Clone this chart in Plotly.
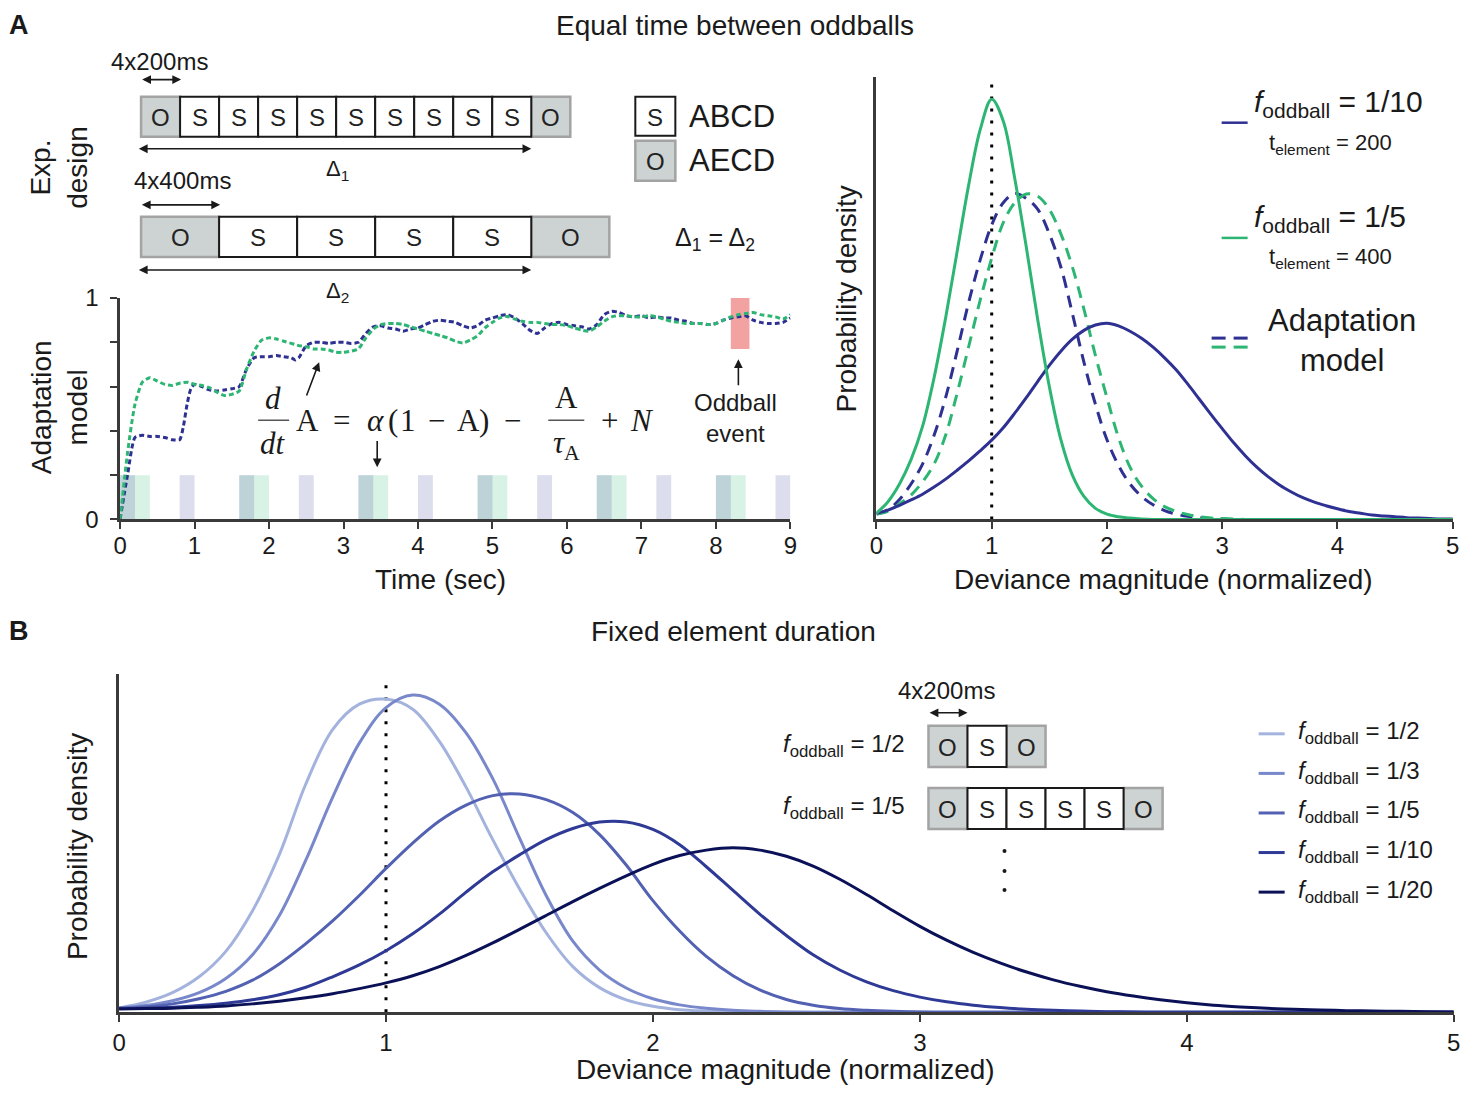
import plotly.graph_objects as go

# page geometry: the photographed page maps viewport v -> picture p as p = s*v + o
W, H = 1475, 1093
SX, OX = 0.99, 6.0
SY, OY = 0.9735, 14.5
def vx(p): return (p - OX) / SX
def vy(p): return (p - OY) / SY
def X(p): return vx(p) / W
def Y(p): return 1 - vy(p) / H

# ---------------- DATA ----------------
# Panel A left: adaptation model traces (time in s, adaptation level)
t_model = [0.0,0.1,0.2,0.3,0.4,0.5,0.6,0.7,0.8,0.85,0.9,0.95,1.0,1.1,1.2,1.3,1.4,1.5,1.6,1.7,1.8,1.9,2.0,
           2.1,2.2,2.3,2.35,2.4,2.5,2.6,2.7,2.8,2.9,3.0,3.1,3.2,3.3,3.4,3.5,3.6,3.7,3.8,3.9,4.0,4.1,4.2,4.3,
           4.4,4.5,4.6,4.7,4.8,4.9,5.0,5.1,5.2,5.3,5.4,5.5,5.6,5.7,5.8,5.9,6.0,6.1,6.2,6.3,6.4,6.5,6.6,6.7,
           6.8,6.9,7.0,7.1,7.2,7.3,7.4,7.5,7.6,7.7,7.8,7.9,8.0,8.1,8.2,8.3,8.4,8.5,8.6,8.7,8.8,8.9,9.0]
adapt_1_10 = [0.0,0.20,0.37,0.38,0.375,0.375,0.37,0.36,0.36,0.42,0.52,0.59,0.61,0.60,0.585,0.58,0.585,0.59,0.60,
              0.68,0.73,0.735,0.735,0.74,0.735,0.73,0.72,0.73,0.785,0.80,0.80,0.795,0.80,0.80,0.795,0.80,0.84,
              0.87,0.875,0.865,0.86,0.85,0.86,0.865,0.88,0.895,0.90,0.895,0.89,0.875,0.865,0.875,0.90,0.91,
              0.92,0.925,0.91,0.885,0.855,0.84,0.865,0.885,0.89,0.88,0.875,0.87,0.86,0.88,0.925,0.94,0.935,
              0.92,0.915,0.92,0.91,0.915,0.91,0.91,0.90,0.895,0.885,0.885,0.88,0.885,0.90,0.91,0.915,0.92,
              0.90,0.89,0.885,0.885,0.89,0.91]
adapt_1_5 = [0.0,0.30,0.52,0.62,0.64,0.625,0.61,0.605,0.615,0.618,0.62,0.615,0.61,0.605,0.595,0.575,0.56,0.565,
             0.58,0.68,0.76,0.81,0.82,0.815,0.805,0.795,0.79,0.785,0.78,0.77,0.77,0.765,0.755,0.755,0.76,0.77,
             0.82,0.86,0.88,0.885,0.885,0.88,0.87,0.86,0.85,0.84,0.83,0.82,0.805,0.797,0.81,0.83,0.865,0.89,
             0.91,0.917,0.905,0.895,0.89,0.89,0.885,0.88,0.88,0.875,0.865,0.855,0.85,0.87,0.895,0.915,0.92,
             0.92,0.915,0.915,0.92,0.915,0.905,0.895,0.89,0.885,0.885,0.885,0.88,0.885,0.90,0.915,0.925,0.93,
             0.935,0.925,0.92,0.915,0.905,0.925]
# stimulus bars (start time, duration)
bars_1_10_start = [0.0,0.8,1.6,2.4,3.2,4.0,4.8,5.6,6.4,7.2,8.0,8.8]
bars_1_10_dur = 0.2
bars_1_5_start = [0.0,1.6,3.2,4.8,6.4,8.0]
bars_1_5_dur = 0.4
bar_height = 0.2
oddball_start, oddball_dur, oddball_lo, oddball_hi = 8.2, 0.25, 0.77, 1.0

# Deviance-magnitude sample positions (0 ... 5 in steps of 0.1)
dev_x = [0.0,0.1,0.2,0.3,0.4,0.5,0.6,0.7,0.8,0.9,1.0,1.1,1.2,1.3,1.4,1.5,1.6,1.7,1.8,1.9,2.0,2.1,2.2,2.3,2.4,
         2.5,2.6,2.7,2.8,2.9,3.0,3.1,3.2,3.3,3.4,3.5,3.6,3.7,3.8,3.9,4.0,4.1,4.2,4.3,4.4,4.5,4.6,4.7,4.8,4.9,5.0]

# Panel A right: probability densities
pd_green_solid = [0.014,0.04,0.08,0.135,0.21,0.32,0.455,0.605,0.755,0.88,0.949,0.90,0.77,0.615,0.45,0.30,
                  0.18,0.10,0.052,0.025,0.012,0.006,0.003,0.001,
                  0,0,0,0,0,0,0,0,0,0,0,0,0,0,0,0,0,0,0,0,0,0,0,0,0,0,0]
pd_blue_solid = [0.014,0.021,0.032,0.044,0.057,0.073,0.091,0.111,0.132,0.155,0.179,0.207,0.24,0.275,0.312,0.348,
                 0.38,0.407,0.427,0.439,0.443,0.437,0.425,0.409,0.389,0.365,0.338,0.306,0.272,0.238,0.205,
                 0.173,0.144,0.118,0.096,0.077,0.062,0.049,0.039,0.031,0.024,0.018,0.014,0.010,0.008,0.006,
                 0.004,0.003,0.002,0.001,0.001]
pd_blue_dash = [0.012,0.022,0.045,0.08,0.125,0.19,0.275,0.38,0.49,0.586,0.665,0.715,0.736,0.725,0.70,0.645,
                0.57,0.465,0.355,0.26,0.18,0.122,0.08,0.052,0.033,0.02,0.012,0.007,0.004,0.002,0.001,
                0,0,0,0,0,0,0,0,0,0,0,0,0,0,0,0,0,0,0,0]
pd_green_dash = [0.012,0.018,0.035,0.055,0.085,0.125,0.19,0.285,0.39,0.495,0.59,0.67,0.715,0.735,0.73,0.70,
                 0.645,0.57,0.475,0.37,0.275,0.185,0.118,0.075,0.047,0.029,0.018,0.011,0.006,0.003,0.002,0.001,
                 0,0,0,0,0,0,0,0,0,0,0,0,0,0,0,0,0,0,0]
ref_x = [1, 1]
ref_y = [0, 0.99]

# Panel B: fixed element duration
pd_b = {
    "1/2":  [0.013,0.03,0.058,0.105,0.18,0.30,0.465,0.675,0.835,0.91,0.925,0.895,0.80,0.665,0.51,0.365,0.235,
             0.135,0.073,0.037,0.018,0.008,0.004,0.002,0.001,
             0,0,0,0,0,0,0,0,0,0,0,0,0,0,0,0,0,0,0,0,0,0,0,0,0,0],
    "1/3":  [0.013,0.02,0.034,0.058,0.10,0.17,0.285,0.45,0.635,0.795,0.90,0.937,0.91,0.825,0.69,0.515,0.345,
             0.21,0.125,0.072,0.04,0.022,0.012,0.006,0.003,0.001,
             0,0,0,0,0,0,0,0,0,0,0,0,0,0,0,0,0,0,0,0,0,0,0,0,0],
    "1/5":  [0.012,0.016,0.025,0.04,0.062,0.095,0.143,0.203,0.27,0.345,0.425,0.50,0.565,0.612,0.64,0.645,
             0.628,0.59,0.525,0.435,0.33,0.24,0.165,0.108,0.066,0.038,0.021,0.011,0.006,0.003,0.001,
             0,0,0,0,0,0,0,0,0,0,0,0,0,0,0,0,0,0,0,0],
    "1/10": [0.011,0.012,0.015,0.02,0.027,0.037,0.052,0.074,0.105,0.14,0.182,0.232,0.29,0.355,0.415,0.465,
             0.51,0.543,0.562,0.562,0.54,0.495,0.43,0.36,0.29,0.227,0.17,0.125,0.09,0.064,0.045,0.031,
             0.021,0.014,0.009,0.006,0.004,0.002,0.001,
             0,0,0,0,0,0,0,0,0,0,0,0],
    "1/20": [0.01,0.011,0.012,0.015,0.019,0.025,0.033,0.043,0.055,0.07,0.087,0.108,0.135,0.168,0.205,0.245,
             0.286,0.327,0.366,0.403,0.437,0.463,0.479,0.486,0.479,0.461,0.432,0.393,0.348,0.30,0.254,0.213,
             0.177,0.146,0.119,0.096,0.077,0.061,0.048,0.037,0.028,0.021,0.016,0.012,0.009,0.007,0.005,
             0.004,0.003,0.002,0.001],
}
b_colors = {"1/2": "#a3b3de", "1/3": "#7888ca", "1/5": "#5261b2", "1/10": "#2e3a95", "1/20": "#0b1157"}

# Tick labels
time_ticks = [0, 1, 2, 3, 4, 5, 6, 7, 8, 9]
dev_ticks = [0, 1, 2, 3, 4, 5]
adapt_tickvals = [0, 0.2, 0.4, 0.6, 0.8, 1.0]
adapt_ticktext = ["0", "", "", "", "", "1"]

BLUE = "#2e3192"
GREEN = "#2db673"
FONT = "Liberation Sans, Arial, sans-serif"
SERIF = "Liberation Serif, DejaVu Serif, serif"
INK = "#1a1a1a"
AX = "#3a3a3a"

fig = go.Figure()

# ---- Panel A left ----
fig.add_trace(go.Bar(x=[s + bars_1_5_dur / 2 for s in bars_1_5_start], y=[bar_height] * len(bars_1_5_start),
                     width=bars_1_5_dur, marker=dict(color=GREEN, line=dict(width=0)), opacity=0.18,
                     xaxis="x", yaxis="y", hoverinfo="skip"))
fig.add_trace(go.Bar(x=[s + bars_1_10_dur / 2 for s in bars_1_10_start], y=[bar_height] * len(bars_1_10_start),
                     width=bars_1_10_dur, marker=dict(color=BLUE, line=dict(width=0)), opacity=0.16,
                     xaxis="x", yaxis="y", hoverinfo="skip"))
fig.add_trace(go.Bar(x=[oddball_start + oddball_dur / 2], y=[oddball_hi - oddball_lo], base=[oddball_lo],
                     width=oddball_dur, marker=dict(color="#f3a2a2", line=dict(width=0)),
                     xaxis="x", yaxis="y", hoverinfo="skip"))
fig.add_trace(go.Scatter(x=t_model, y=adapt_1_10, mode="lines", xaxis="x", yaxis="y",
                         line=dict(color=BLUE, width=3, dash="5px,3px", shape="spline", smoothing=0.6)))
fig.add_trace(go.Scatter(x=t_model, y=adapt_1_5, mode="lines", xaxis="x", yaxis="y",
                         line=dict(color=GREEN, width=3, dash="5px,3px", shape="spline", smoothing=0.6)))

# ---- Panel A right ----
fig.add_trace(go.Scatter(x=ref_x, y=ref_y, mode="lines", xaxis="x2", yaxis="y2",
                         line=dict(color="black", width=3, dash="3px,9px")))
fig.add_trace(go.Scatter(x=dev_x, y=pd_blue_dash, mode="lines", xaxis="x2", yaxis="y2",
                         line=dict(color=BLUE, width=3, dash="12px,8px", shape="spline")))
fig.add_trace(go.Scatter(x=dev_x, y=pd_green_dash, mode="lines", xaxis="x2", yaxis="y2",
                         line=dict(color=GREEN, width=3, dash="12px,8px", shape="spline")))
fig.add_trace(go.Scatter(x=dev_x, y=pd_blue_solid, mode="lines", xaxis="x2", yaxis="y2",
                         line=dict(color=BLUE, width=3, shape="spline")))
fig.add_trace(go.Scatter(x=dev_x, y=pd_green_solid, mode="lines", xaxis="x2", yaxis="y2",
                         line=dict(color=GREEN, width=3, shape="spline")))

# ---- Panel B ----
fig.add_trace(go.Scatter(x=ref_x, y=ref_y, mode="lines", xaxis="x3", yaxis="y3",
                         line=dict(color="black", width=3, dash="3px,9px")))
for k in ["1/2", "1/3", "1/5", "1/10", "1/20"]:
    fig.add_trace(go.Scatter(x=dev_x, y=pd_b[k], mode="lines", xaxis="x3", yaxis="y3",
                             line=dict(color=b_colors[k], width=3, shape="spline")))

axis_common = dict(showline=True, linewidth=2.5, linecolor=AX, showgrid=False, zeroline=False,
                   ticks="outside", ticklen=7, tickwidth=2, tickcolor=AX,
                   tickfont=dict(family=FONT, size=24, color=INK), fixedrange=True)
noy = dict(showline=True, linewidth=2.5, linecolor=AX, showgrid=False, zeroline=False, ticks="",
           showticklabels=False, range=[0, 1], fixedrange=True)

fig.update_layout(
    width=W, height=H, autosize=False, margin=dict(l=0, r=0, t=0, b=0),
    paper_bgcolor="white", plot_bgcolor="white", showlegend=False, barmode="overlay",
    font=dict(family=FONT, color=INK),
    xaxis=dict(domain=[X(119), X(789)], range=[0, 9], tickvals=time_ticks, anchor="y",
               ticklabelstandoff=-4, **axis_common),
    yaxis=dict(domain=[Y(519), Y(298)], range=[0, 1], tickvals=adapt_tickvals, ticktext=adapt_ticktext,
               anchor="x", ticklabelstandoff=7, **axis_common),
    xaxis2=dict(domain=[X(875), X(1451)], range=[0, 5], tickvals=dev_ticks, anchor="y2",
                ticklabelstandoff=-4, **axis_common),
    yaxis2=dict(domain=[Y(519), Y(77)], anchor="x2", **noy),
    xaxis3=dict(domain=[X(118), X(1452)], range=[0, 5], tickvals=dev_ticks, anchor="y3", **axis_common),
    yaxis3=dict(domain=[Y(1011), Y(673)], anchor="x3", **noy),
)

shapes = []
ann = []

def txt(x, y, s, size, xa="center", ya="middle", angle=0, family=FONT, color=INK):
    ann.append(dict(x=X(x), y=Y(y), xref="paper", yref="paper", text=s, showarrow=False,
                    xanchor=xa, yanchor=ya, textangle=angle, font=dict(family=family, size=size, color=color)))

def arrow(x0, y0, x1, y1, both=False, width=1.6):
    ann.append(dict(x=X(x1), y=Y(y1), xref="paper", yref="paper", ax=(x0 - x1) / SX, ay=(y0 - y1) / SY,
                    axref="pixel", ayref="pixel", text="", showarrow=True, arrowhead=2,
                    arrowsize=1.1, arrowwidth=width, arrowcolor=INK,
                    arrowside="end+start" if both else "end"))

def line(x0, y0, x1, y1, color=INK, width=1.5, dash=None):
    shapes.append(dict(type="line", xref="paper", yref="paper", x0=X(x0), y0=Y(y0), x1=X(x1), y1=Y(y1),
                       line=dict(color=color, width=width, dash=dash)))

def cells(seq, x0, w, y0, y1, size=24):
    for pass_ in ("O", "S"):
        for i, c in enumerate(seq):
            if c != pass_:
                continue
            a, b = x0 + i * w, x0 + (i + 1) * w
            if c == "O":
                shapes.append(dict(type="rect", xref="paper", yref="paper", x0=X(a), x1=X(b), y0=Y(y1), y1=Y(y0),
                                   fillcolor="#cdd2d2", line=dict(color="#a3a3a3", width=2.5)))
            else:
                shapes.append(dict(type="rect", xref="paper", yref="paper", x0=X(a), x1=X(b), y0=Y(y1), y1=Y(y0),
                                   fillcolor="white", line=dict(color="#1a1a1a", width=2)))
    for i, c in enumerate(seq):
        txt(x0 + (i + 0.5) * w, (y0 + y1) / 2 + 1, c, size, color="#222")

# titles (kept just inside the visible page area)
txt(18, 25, "<b>A</b>", 27)
txt(734, 26, "Equal time between oddballs", 28)
txt(18, 630, "<b>B</b>", 27)
txt(732, 631, "Fixed element duration", 28)

# experimental design
txt(158, 62, "4x200ms", 24)
arrow(140, 80, 180, 80, both=True)
cells("OSSSSSSSSSO", 140, 39, 97, 137)
arrow(140, 149, 530, 149, both=True)
txt(336, 170, "Δ<sub>1</sub>", 22)
txt(181, 181, "4x400ms", 24)
arrow(140, 205, 219, 205, both=True)
cells("OSSSSO", 140, 78, 217, 257)
arrow(140, 270, 530, 270, both=True)
txt(336, 292, "Δ<sub>2</sub>", 22)
cells("S", 634, 40, 97, 136)
txt(686, 117, "ABCD", 31, xa="left")
cells("O", 634, 40, 141, 181)
txt(686, 161, "AECD", 31, xa="left")
txt(714, 239, "Δ<sub>1</sub> = Δ<sub>2</sub>", 25)
txt(58, 168, "Exp.<br>design", 28, angle=-90)
txt(58, 407, "Adaptation<br>model", 28, angle=-90)
txt(439, 579, "Time (sec)", 28)

# equation
EQ = 31
txt(272, 398, "<i>d</i>", EQ, family=SERIF)
line(257, 420, 288, 420, color="#555", width=1.5)
txt(272, 443, "<i>dt</i>", EQ, family=SERIF)
for cx, s in [(306, "A"), (340, "="), (374, "<i>α</i>"), (392, "("), (407, "1"), (435, "−"),
              (467, "A"), (483, ")"), (511, "−"), (608, "+"), (641, "<i>N</i>")]:
    txt(cx, 420, s, EQ, family=SERIF)
txt(565, 397, "A", EQ, family=SERIF)
line(547, 420, 583, 420, color="#555", width=1.5)
txt(565, 445, "<i>τ</i><sub>A</sub>", EQ, family=SERIF)
arrow(305, 396, 318, 362)
arrow(376, 440, 376, 467)
arrow(737, 386, 737, 359)
txt(734, 418, "Oddball<br>event", 24)

# panel A right labels
txt(845, 299, "Probability density", 28, angle=-90)
txt(1162, 579, "Deviance magnitude (normalized)", 28)
line(1220, 123, 1246, 123, color=BLUE, width=2.5)
txt(1250, 104, "<i>f</i><sub>oddball</sub> = 1/10", 30, xa="left")
txt(1265, 144, "t<sub>element</sub> = 200", 22, xa="left")
line(1220, 238, 1246, 238, color=GREEN, width=2.5)
txt(1250, 219, "<i>f</i><sub>oddball</sub> = 1/5", 30, xa="left")
txt(1265, 258, "t<sub>element</sub> = 400", 22, xa="left")
line(1210, 338, 1224, 338, color=BLUE, width=3)
line(1232, 338, 1246, 338, color=BLUE, width=3)
line(1210, 347, 1224, 347, color=GREEN, width=3)
line(1232, 347, 1246, 347, color=GREEN, width=3)
txt(1340, 340, "Adaptation<br>model", 31)

# panel B labels
txt(76, 846, "Probability density", 28, angle=-90)
txt(784, 1068, "Deviance magnitude (normalized)", 28)
txt(945, 690, "4x200ms", 24)
arrow(927, 712, 966, 712, both=True)
txt(906, 745, "<i>f</i><sub>oddball</sub> = 1/2", 24, xa="right")
cells("OSO", 927, 39, 725, 766)
txt(906, 807, "<i>f</i><sub>oddball</sub> = 1/5", 24, xa="right")
cells("OSSSSO", 927, 39, 787, 828)
for yy in (850, 870, 889):
    shapes.append(dict(type="circle", xref="paper", yref="paper", x0=X(1001), x1=X(1005), y0=Y(yy + 2),
                       y1=Y(yy - 2), fillcolor=INK, line=dict(width=0)))
for i, k in enumerate(["1/2", "1/3", "1/5", "1/10", "1/20"]):
    yy = 733 + i * 39.5
    line(1257, yy, 1283, yy, color=b_colors[k], width=3)
    txt(1294, yy - 1, "<i>f</i><sub>oddball</sub> = " + k, 24, xa="left")

fig.update_layout(shapes=shapes, annotations=ann)
fig.write_html("out.html", config={"displayModeBar": False},
               post_script="document.body.style.margin='0';document.body.style.overflow='hidden';")
